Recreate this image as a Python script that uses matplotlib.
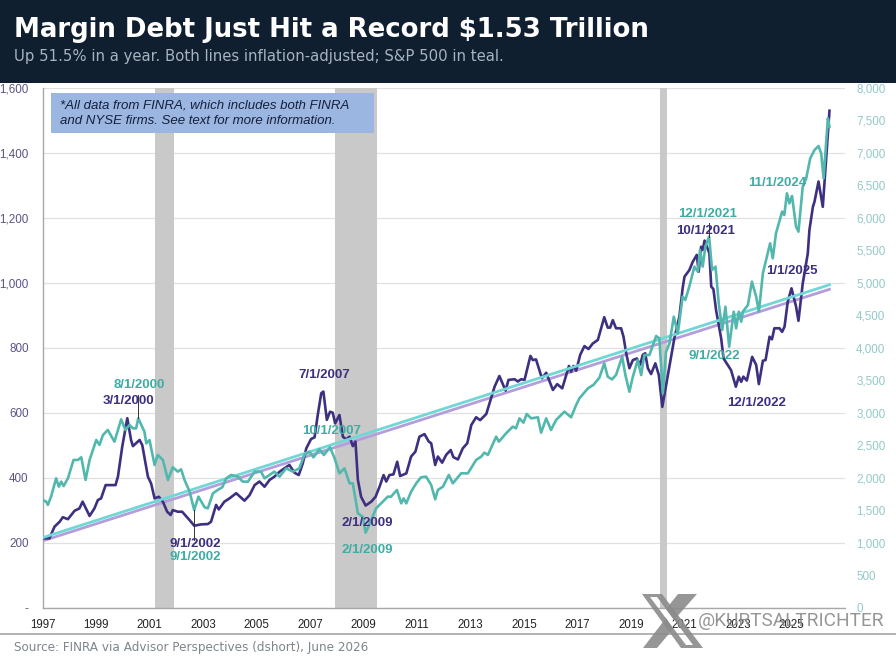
import matplotlib
matplotlib.use("Agg")
import matplotlib.pyplot as plt
from matplotlib.patches import Rectangle, Polygon, PathPatch
from matplotlib.path import Path

W, H = 896, 661

# margin debt, billions of real dollars
margin_dates = [
    1997.0, 1997.26, 1997.45, 1997.64, 1997.76, 1997.95, 1998.2, 1998.38, 1998.5, 1998.76,
    1998.94, 1999.07, 1999.19, 1999.36, 1999.57, 1999.73, 1999.82, 1999.98, 2000.17, 2000.31,
    2000.38, 2000.63, 2000.73, 2000.94, 2001.06, 2001.19, 2001.35, 2001.5, 2001.66, 2001.79,
    2001.87, 2002.06, 2002.22, 2002.5, 2002.67, 2002.93, 2003.18, 2003.3, 2003.49, 2003.59,
    2003.8, 2003.99, 2004.24, 2004.55, 2004.74, 2004.93, 2005.11, 2005.3, 2005.49, 2005.67,
    2005.86, 2006.05, 2006.23, 2006.42, 2006.58, 2006.73, 2006.86, 2007.04, 2007.17, 2007.29,
    2007.42, 2007.5, 2007.63, 2007.75, 2007.85, 2007.94, 2008.1, 2008.23, 2008.35, 2008.48,
    2008.6, 2008.7, 2008.79, 2008.91, 2009.08, 2009.29, 2009.45, 2009.6, 2009.75, 2009.85,
    2009.97, 2010.12, 2010.26, 2010.37, 2010.6, 2010.78, 2010.94, 2011.09, 2011.28, 2011.44,
    2011.53, 2011.68, 2011.78, 2011.94, 2012.09, 2012.26, 2012.36, 2012.53, 2012.71, 2012.88,
    2013.03, 2013.21, 2013.36, 2013.59, 2013.9, 2014.08, 2014.31, 2014.42, 2014.65, 2014.77,
    2014.89, 2015.02, 2015.24, 2015.33, 2015.45, 2015.67, 2015.83, 2016.08, 2016.24, 2016.43,
    2016.58, 2016.68, 2016.76, 2016.85, 2016.95, 2017.1, 2017.26, 2017.41, 2017.57, 2017.76,
    2018.0, 2018.13, 2018.22, 2018.32, 2018.44, 2018.63, 2018.72, 2018.82, 2018.94, 2019.07,
    2019.22, 2019.34, 2019.44, 2019.53, 2019.63, 2019.75, 2019.91, 2020.04, 2020.17, 2020.37,
    2020.62, 2020.81, 2020.93, 2021.0, 2021.18, 2021.31, 2021.46, 2021.53, 2021.62, 2021.68,
    2021.75, 2021.93, 2022.0, 2022.08, 2022.18, 2022.37, 2022.46, 2022.74, 2022.92, 2023.03,
    2023.12, 2023.2, 2023.33, 2023.53, 2023.68, 2023.78, 2023.93, 2024.03, 2024.18, 2024.27,
    2024.36, 2024.55, 2024.65, 2024.74, 2024.86, 2025.0, 2025.17, 2025.26, 2025.42, 2025.61,
    2025.67, 2025.8, 2025.86, 2026.01, 2026.17, 2026.42,
]
margin_values = [
    213, 213, 249, 264, 278, 272, 298, 305, 326, 282,
    305, 331, 336, 377, 377, 377, 403, 495, 583, 516,
    497, 516, 500, 403, 382, 336, 341, 326, 295, 285,
    300, 295, 295, 269, 252, 256, 257, 264, 316, 302,
    326, 336, 352, 329, 346, 377, 388, 372, 393, 403,
    418, 429, 439, 415, 408, 444, 490, 519, 524, 593,
    660, 665, 578, 603, 600, 567, 593, 526, 518, 526,
    497, 511, 393, 341, 314, 326, 341, 372, 408, 388,
    408, 410, 449, 405, 413, 465, 480, 526, 534, 511,
    506, 439, 465, 446, 470, 485, 463, 456, 490, 506,
    562, 586, 577, 596, 680, 713, 668, 701, 703, 696,
    703, 701, 775, 762, 764, 706, 723, 670, 688, 675,
    716, 744, 726, 744, 729, 778, 805, 796, 813, 824,
    894, 862, 862, 885, 860, 860, 834, 783, 737, 762,
    767, 747, 778, 783, 737, 719, 752, 716, 618, 711,
    829, 896, 983, 1019, 1039, 1065, 1086, 1034, 1111, 1101,
    1130, 1091, 988, 981, 916, 829, 767, 731, 680, 711,
    695, 711, 699, 772, 747, 688, 760, 762, 834, 826,
    860, 860, 849, 865, 942, 983, 927, 883, 998, 1091,
    1163, 1234, 1250, 1312, 1234, 1530,
]

# S&P 500, real index points
sp_dates = [
    1997.0, 1997.14, 1997.2, 1997.32, 1997.51, 1997.61, 1997.7, 1997.79, 1997.95, 1998.16,
    1998.32, 1998.45, 1998.61, 1998.76, 1999.01, 1999.13, 1999.26, 1999.44, 1999.69, 1999.94,
    2000.1, 2000.25, 2000.38, 2000.5, 2000.58, 2000.81, 2000.88, 2001.0, 2001.19, 2001.31,
    2001.5, 2001.69, 2001.87, 2002.06, 2002.18, 2002.31, 2002.5, 2002.67, 2002.83, 2003.06,
    2003.18, 2003.37, 2003.55, 2003.72, 2003.87, 2004.05, 2004.3, 2004.49, 2004.68, 2004.93,
    2005.17, 2005.3, 2005.49, 2005.67, 2005.86, 2006.11, 2006.36, 2006.6, 2006.79, 2006.98,
    2007.13, 2007.35, 2007.52, 2007.75, 2007.92, 2008.1, 2008.29, 2008.48, 2008.6, 2008.79,
    2008.97, 2009.08, 2009.29, 2009.47, 2009.66, 2009.91, 2010.03, 2010.25, 2010.41, 2010.5,
    2010.6, 2010.78, 2010.97, 2011.15, 2011.34, 2011.53, 2011.68, 2011.78, 2011.97, 2012.19,
    2012.34, 2012.65, 2012.9, 2013.21, 2013.4, 2013.52, 2013.65, 2013.96, 2014.06, 2014.33,
    2014.58, 2014.7, 2014.83, 2014.98, 2015.1, 2015.27, 2015.52, 2015.64, 2015.83, 2016.01,
    2016.2, 2016.51, 2016.76, 2016.95, 2017.07, 2017.39, 2017.6, 2017.82, 2018.0, 2018.13,
    2018.29, 2018.44, 2018.67, 2018.79, 2018.94, 2019.07, 2019.25, 2019.38, 2019.5, 2019.69,
    2019.94, 2020.06, 2020.19, 2020.31, 2020.44, 2020.6, 2020.75, 2020.93, 2021.03, 2021.18,
    2021.37, 2021.5, 2021.58, 2021.68, 2021.78, 2021.92, 2022.03, 2022.16, 2022.28, 2022.41,
    2022.53, 2022.67, 2022.84, 2022.93, 2023.03, 2023.12, 2023.18, 2023.37, 2023.52, 2023.68,
    2023.78, 2023.93, 2024.2, 2024.3, 2024.42, 2024.65, 2024.73, 2024.83, 2024.92, 2025.02,
    2025.17, 2025.26, 2025.42, 2025.55, 2025.7, 2025.86, 2026.01, 2026.11, 2026.2, 2026.36,
    2026.42,
]
sp_values = [
    1656, 1630, 1579, 1707, 1989, 1861, 1938, 1871, 1989, 2272,
    2272, 2313, 1964, 2272, 2580, 2503, 2656, 2734, 2554, 2898,
    2734, 2811, 2759, 2759, 2913, 2708, 2528, 2579, 2195, 2349,
    2272, 1964, 2159, 2092, 2128, 1964, 1784, 1502, 1707, 1543,
    1527, 1758, 1810, 1851, 1989, 2041, 2015, 1938, 1938, 2092,
    2092, 1989, 2041, 2092, 2015, 2143, 2092, 2143, 2349, 2400,
    2313, 2436, 2349, 2467, 2297, 2066, 2143, 1912, 1912, 1450,
    1399, 1153, 1348, 1527, 1604, 1707, 1707, 1810, 1604, 1681,
    1604, 1784, 1912, 2005, 2015, 1887, 1666, 1810, 1861, 2041,
    1912, 2066, 2066, 2272, 2323, 2385, 2349, 2631, 2554, 2682,
    2785, 2759, 2913, 2846, 2980, 2913, 2929, 2692, 2913, 2734,
    2888, 3016, 2929, 3119, 3221, 3375, 3430, 3540, 3760, 3554,
    3513, 3580, 3862, 3580, 3323, 3554, 3811, 3580, 3888, 3888,
    4181, 4145, 3298, 3939, 4068, 4478, 4222, 4787, 4736, 4941,
    5249, 5172, 5506, 5249, 5557, 5711, 5198, 5249, 4684, 4273,
    4632, 4016, 4555, 4299, 4555, 4401, 4555, 4658, 5017, 4786,
    4555, 5146, 5608, 5377, 5762, 6096, 6044, 6378, 6224, 6337,
    5865, 5788, 6481, 6609, 6917, 7045, 7107, 6994, 6609, 7533,
    7405,
]

trend_dates = [1997.0, 2026.42]
margin_trend = [205, 980]
sp_trend = [1075, 4970]

recessions = [(2001.19, 2001.92), (2007.93, 2009.49), (2020.1, 2020.33)]

year_ticks = list(range(1997, 2026, 2))
margin_ticks = list(range(0, 1601, 200))
sp_ticks = list(range(0, 8001, 500))

# text, x, y on the margin scale, series
point_labels = [
    ("8/1/2000", 2000.61, 685, "sp"),
    ("3/1/2000", 2000.2, 636, "margin"),
    ("9/1/2002", 2002.7, 196, "margin"),
    ("9/1/2002", 2002.7, 156, "sp"),
    ("7/1/2007", 2007.52, 716, "margin"),
    ("10/1/2007", 2007.79, 544, "sp"),
    ("2/1/2009", 2009.13, 260, "margin"),
    ("2/1/2009", 2009.13, 177, "sp"),
    ("12/1/2021", 2021.88, 1212, "sp"),
    ("10/1/2021", 2021.77, 1160, "margin"),
    ("11/1/2024", 2024.46, 1307, "sp"),
    ("1/1/2025", 2025.02, 1036, "margin"),
    ("9/1/2022", 2022.1, 775, "sp"),
    ("12/1/2022", 2023.7, 630, "margin"),
]
# thin leaders: x, y from, y to (margin scale)
leaders = [(2000.58, 585, 655), (2002.67, 208, 300), (2021.92, 1140, 1185)]

DARK = "#3f2f80"
TEAL = "#52b8ae"
TEAL_TEXT = "#3fada3"
ARIAL = "Liberation Sans"


def fx(x):
    return x / W


def fy(y):
    return 1 - y / H


fig = plt.figure(figsize=(W / 100, H / 100), dpi=100, facecolor="white")
ax = fig.add_axes([fx(42.5), fy(607.5), (845 - 42.5) / W, (607.5 - 88) / H])
ax.set_xlim(1997, 2027)
ax.set_ylim(0, 1600)
ax.set_axisbelow(True)
ax.grid(axis="y", color="#e0e0e0", linewidth=0.9)

for start, end in recessions:
    ax.axvspan(start, end, color="#c9c9c9", linewidth=0, zorder=1)

ax.plot(trend_dates, margin_trend, color="#b39ddb", linewidth=2, zorder=2)
ax.plot(margin_dates, margin_values, color=DARK, linewidth=1.9, zorder=3)

ax.set_xticks(year_ticks)
ax.set_xticklabels([str(y) for y in year_ticks], fontsize=8.3, family=ARIAL, color="#222222")
ax.set_yticks(margin_ticks)
ax.set_yticklabels(["-" if v == 0 else f"{v:,}" for v in margin_ticks], fontsize=8.4,
                   family=ARIAL, color="#5c5488")
ax.tick_params(axis="x", length=0, pad=8)
ax.tick_params(axis="y", length=0, pad=10)
for side in ["top", "right"]:
    ax.spines[side].set_visible(False)
for side in ["left", "bottom"]:
    ax.spines[side].set_color("#a8a8a8")
    ax.spines[side].set_linewidth(1.0)

ax2 = ax.twinx()
ax2.set_ylim(0, 8000)
ax2.set_yticks(sp_ticks)
ax2.set_yticklabels([f"{v:,}" for v in sp_ticks], fontsize=8.4, family=ARIAL, color="#93c9c9")
ax2.tick_params(axis="y", length=0, pad=8)
for spine in ax2.spines.values():
    spine.set_visible(False)
ax2.plot(trend_dates, sp_trend, color="#6fd8d6", linewidth=2, zorder=2)
ax2.plot(sp_dates, sp_values, color=TEAL, linewidth=1.9, zorder=3)

for x, y0, y1 in leaders:
    ax2.plot([x, x], [y0 * 5, y1 * 5], color="#333333", linewidth=0.7, zorder=4)

for text, x, y, series in point_labels:
    ax2.text(x, y * 5, text, ha="center", va="center", fontsize=9.5, fontweight="bold",
             family=ARIAL, color=DARK if series == "margin" else TEAL_TEXT, zorder=5)

# note box over the plot
fig.add_artist(Rectangle((fx(51), fy(133)), 323 / W, 40 / H, transform=fig.transFigure,
                         facecolor="#9cb6e2", edgecolor="none", zorder=3))
fig.text(fx(60), fy(105.5), "*All data from FINRA, which includes both FINRA", fontsize=9.55,
         style="italic", family=ARIAL, color="#16203a", va="center", zorder=4)
fig.text(fx(60), fy(120.5), "and NYSE firms. See text for more information.", fontsize=9.55,
         style="italic", family=ARIAL, color="#16203a", va="center", zorder=4)

# header band
fig.add_artist(Rectangle((0, fy(83)), 1, 83 / H, transform=fig.transFigure,
                         facecolor="#0f1f30", edgecolor="none", zorder=6))
fig.text(fx(14), fy(30), "Margin Debt Just Hit a Record $1.53 Trillion", fontsize=18.7,
         fontweight="bold", family="DejaVu Sans", color="white", va="center", zorder=7)
fig.text(fx(14), fy(57), "Up 51.5% in a year. Both lines inflation-adjusted; S&P 500 in teal.",
         fontsize=10.75, family="DejaVu Sans", color="#a8b3bf", va="center", zorder=7)

# footer
fig.add_artist(Rectangle((0, fy(634.5)), 1, 1.2 / H, transform=fig.transFigure,
                         facecolor="#b4b4b4", edgecolor="none", zorder=3))
fig.text(fx(14), fy(648), "Source: FINRA via Advisor Perspectives (dshort), June 2026",
         fontsize=8.65, family="DejaVu Sans", color="#7d858d", va="center", zorder=4)

# X handle watermark, built in figure pixels
MARK = "#8b8b8b"


def to_fig(points):
    return [(fx(x), fy(y)) for x, y in points]


outer = to_fig([(642, 594), (662, 594), (703, 648), (681, 648)])
inner = to_fig([(650, 597), (686, 645), (693, 645), (657, 597)])
stroke = Path.make_compound_path(Path(outer + outer[:1], closed=True), Path(inner + inner[:1], closed=True))
fig.add_artist(PathPatch(stroke, transform=fig.transFigure, facecolor=MARK, edgecolor="none",
                         alpha=0.9, zorder=5))
fig.add_artist(Polygon(to_fig([(678, 594), (697, 594), (674, 620), (666, 609)]), transform=fig.transFigure,
                       facecolor=MARK, edgecolor="none", alpha=0.9, zorder=5))
fig.add_artist(Polygon(to_fig([(643, 648), (657, 648), (673, 629), (666, 618)]), transform=fig.transFigure,
                       facecolor=MARK, edgecolor="none", alpha=0.9, zorder=5))
fig.text(fx(698), fy(621), "@KURTSALTRICHTER", fontsize=13.7, color=MARK, alpha=0.9,
         family="Roboto", va="center", zorder=5)

fig.savefig("out.png", dpi=100)
